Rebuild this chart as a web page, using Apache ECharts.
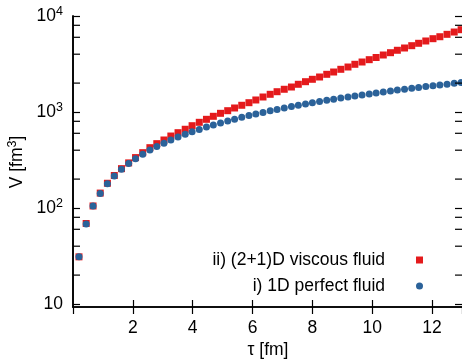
<!DOCTYPE html>
<html><head><meta charset="utf-8">
<script src="https://cdn.jsdelivr.net/npm/echarts@6/dist/echarts.min.js"></script>
<style>html,body{margin:0;padding:0;background:#fff}#c{width:462px;height:360px}</style>
</head><body><div id="c"></div>
<script>
var tau = [0.20,0.44,0.67,0.91,1.15,1.38,1.62,1.86,2.09,2.33,2.57,2.80,3.04,3.27,3.51,3.75,3.98,4.22,4.46,4.69,4.93,5.17,5.40,5.64,5.88,6.11,6.35,6.59,6.82,7.06,7.30,7.53,7.77,8.00,8.24,8.48,8.71,8.95,9.19,9.42,9.66,9.90,10.13,10.37,10.61,10.84,11.08,11.32,11.55,11.79,12.03,12.26,12.50,12.74,12.97];
var viscous = [31,69,105,143,181,218,257,295,335,377,425,468,511,562,609,661,720,781,839,902,969,1032,1101,1175,1250,1334,1433,1529,1627,1725,1821,1944,2069,2191,2315,2469,2610,2785,2942,3140,3317,3508,3696,3924,4148,4395,4642,4907,5196,5492,5803,6083,6442,6810,7200];
var perfect = [31,68,105,142,179,215,253,290,326,363,401,437,474,510,548,585,621,658,696,732,769,807,842,880,917,953,991,1028,1064,1101,1139,1175,1212,1248,1285,1323,1359,1396,1434,1470,1507,1544,1580,1618,1655,1691,1728,1766,1802,1839,1877,1913,1950,1987,2023];
var seriesNames = ['ii) (2+1)D viscous fluid', 'i) 1D perfect fluid'];
var xTicks = [2,4,6,8,10,12];
var yMajor = [10,100,1000,10000];
var yMinor = [20,40,60,80,200,400,600,800,2000,4000,6000,8000];
var xMin = 0, xMax = 13, yMin = 10, yMax = 10000;
var xTitle = 'τ [fm]';
var yTitle = 'V [fm{sup|3}]';

var FONT = 'Liberation Sans';
var FS = 17.5;
function pairs(xs, ys){ return xs.map(function(x,i){return [x, ys[i]];}); }

var chart = echarts.init(document.getElementById('c'), null, {renderer:'canvas'});
var lineSt = {color:'#000', width:1.6};
var tickSt = {inside:true, length:7, lineStyle:{color:'#000', width:1.2}};
function isMajor(v){ for (var i=0;i<yMajor.length;i++){ if (Math.abs(v-yMajor[i])<1e-6*yMajor[i]) return i; } return -1; }
var supRich = {sup:{fontFamily:FONT, fontSize:12.5, fill:'#000', color:'#000', padding:[0,0,9,0]}};
var yTickVals = yMajor.concat(yMinor);
chart.setOption({
  animation:false,
  backgroundColor:'#fff',
  grid:[
    {left:73, top:16, width:390, height:291, containLabel:false},
    {left:73, top:16, width:390, height:288, containLabel:false}
  ],
  xAxis:[
    {gridIndex:0, type:'value', position:'bottom', min:xMin, max:xMax, interval:2,
      axisLine:{show:true, lineStyle:lineSt}, axisTick:tickSt, splitLine:{show:false},
      axisLabel:{margin:12, fontFamily:FONT, fontSize:FS, color:'#000', showMinLabel:false, showMaxLabel:false,
        formatter:function(v){ return xTicks.indexOf(v)>=0 ? String(v) : ''; }}},
    {gridIndex:0, type:'value', position:'top', min:xMin, max:xMax, interval:2,
      axisLine:{show:true, lineStyle:lineSt}, axisTick:tickSt, splitLine:{show:false}, axisLabel:{show:false}},
    {gridIndex:1, type:'value', min:xMin, max:xMax, show:false}
  ],
  yAxis:[
    {gridIndex:0, type:'value', position:'left', min:0, max:1,
      axisLine:{show:true, lineStyle:lineSt}, axisTick:{show:false}, axisLabel:{show:false}, splitLine:{show:false}},
    {gridIndex:0, type:'value', position:'right', min:0, max:1,
      axisLine:{show:true, lineStyle:lineSt}, axisTick:{show:false}, axisLabel:{show:false}, splitLine:{show:false}},
    {gridIndex:1, type:'log', logBase:10, position:'left', min:yMin, max:yMax,
      axisLine:{show:false}, axisTick:tickSt, splitLine:{show:false},
      axisLabel:{margin:10, fontFamily:FONT, fontSize:FS, color:'#000',
        formatter:function(v){ var k=isMajor(v); if(k<0) return ''; var n=Math.round(Math.log10(yMajor[k])); return n===1?'10':'10{sup|'+n+'}'; },
        rich:supRich}},
    {gridIndex:1, type:'log', logBase:10, position:'right', min:yMin, max:yMax,
      axisLine:{show:false}, axisTick:tickSt, splitLine:{show:false}, axisLabel:{show:false}}
  ],
  legend:{
    orient:'vertical', align:'right', right:39, top:251, padding:0, itemWidth:7, itemHeight:7, itemGap:8,
    textStyle:{fontFamily:FONT, fontSize:FS, color:'#000', padding:[0,26,0,0]},
    data:[{name:seriesNames[0], icon:'rect'},{name:seriesNames[1], icon:'circle'}]
  },
  graphic:{elements:[
    {type:'text', x:268, y:350, silent:true,
      style:{text:xTitle, fill:'#000', font:FS+'px "'+FONT+'"', align:'center', verticalAlign:'middle'}},
    {type:'text', x:17, y:162, rotation:Math.PI/2, silent:true,
      style:{text:yTitle, fill:'#000', font:FS+'px "'+FONT+'"', align:'center', verticalAlign:'middle',
        rich:{sup:{fontFamily:FONT, fontSize:12.5, fill:'#000', padding:[0,0,9,0]}}}}
  ]},
  series:[
    {name:seriesNames[0], type:'scatter', xAxisIndex:2, yAxisIndex:2, symbol:'rect', symbolSize:7, data:pairs(tau, viscous),
      itemStyle:{color:'#e41a1c', opacity:1}, z:2},
    {name:seriesNames[1], type:'scatter', xAxisIndex:2, yAxisIndex:2, symbol:'circle', symbolSize:7, data:pairs(tau, perfect),
      itemStyle:{color:'#2b6299', opacity:1}, z:3},
    {type:'custom', xAxisIndex:2, yAxisIndex:2, silent:true, z:10, data:yMinor.map(function(v){return [xMin, v];}),
      renderItem:function(params, api){
        var v = api.value(1);
        var pl = api.coord([xMin, v]), pr = api.coord([xMax, v]);
        var st = {stroke:'#000', lineWidth:1.2};
        return {type:'group', children:[
          {type:'line', shape:{x1:pl[0], y1:pl[1], x2:pl[0]+7, y2:pl[1]}, style:st},
          {type:'line', shape:{x1:pr[0], y1:pr[1], x2:pr[0]-7, y2:pr[1]}, style:st}
        ]};
      },
      encode:{x:0, y:1}
    }
  ]
});
</script></body></html>
